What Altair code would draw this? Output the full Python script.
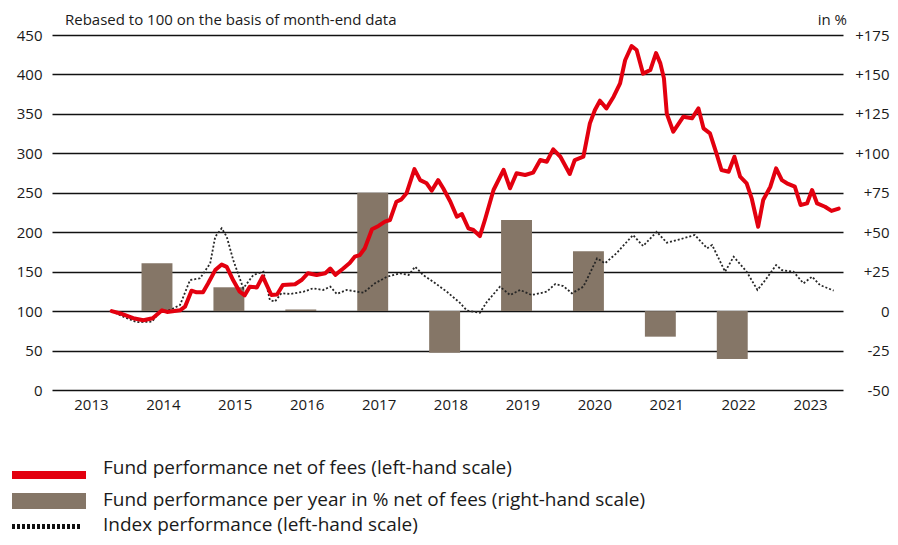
import altair as alt
import pandas as pd

# ---------------- data ----------------
fund_t = [2013.83, 2013.95, 2014.13, 2014.27, 2014.40, 2014.53, 2014.60, 2014.78, 2014.85, 2014.94,
          2015.01, 2015.10, 2015.17, 2015.27, 2015.36, 2015.43, 2015.52, 2015.61, 2015.68, 2015.75,
          2015.85, 2015.93, 2016.05, 2016.13, 2016.21, 2016.38, 2016.47, 2016.56, 2016.68, 2016.80,
          2016.87, 2016.94, 2017.05, 2017.14, 2017.21, 2017.28, 2017.35, 2017.45, 2017.54, 2017.63,
          2017.70, 2017.79, 2017.86, 2017.93, 2018.04, 2018.12, 2018.21, 2018.28, 2018.37, 2018.44,
          2018.54, 2018.63, 2018.70, 2018.79, 2018.86, 2018.95, 2019.02, 2019.14, 2019.28, 2019.37,
          2019.46, 2019.58, 2019.69, 2019.79, 2019.88, 2019.97, 2020.07, 2020.20, 2020.27, 2020.39,
          2020.48, 2020.55, 2020.62, 2020.71, 2020.81, 2020.90, 2020.97, 2021.06, 2021.13, 2021.22,
          2021.32, 2021.40, 2021.46, 2021.51, 2021.55, 2021.64, 2021.78, 2021.90, 2021.99, 2022.06,
          2022.15, 2022.24, 2022.31, 2022.41, 2022.49, 2022.57, 2022.66, 2022.73, 2022.82, 2022.89,
          2022.99, 2023.07, 2023.15, 2023.22, 2023.33, 2023.41, 2023.50, 2023.57, 2023.64, 2023.75,
          2023.84, 2023.94]
fund_v = [100, 97, 91, 88.5, 91, 101, 99, 101, 105.6, 125.9,
          123.8, 124, 135, 152, 159, 156, 139, 124.6, 120, 131,
          130, 144, 120.4, 121, 133, 134, 139.4, 148, 145.8, 148,
          154, 146, 154, 161, 169, 171, 179.6, 203.7, 208, 213.4,
          215.5, 238.7, 241.7, 249.3, 280, 266, 262, 252.6, 266, 255.7,
          238.7, 219.7, 223, 205, 202.8, 195, 215.5, 253.5, 279, 255.7,
          274.7, 272.5, 275.5, 291.5, 289.4, 305, 295.7, 273.8, 291.5, 295.7,
          338, 355, 366.7, 357, 371.8, 388.7, 418, 436, 431, 401,
          405.6, 427, 414, 395, 350, 327.4, 346.4, 344.4, 357, 331.7,
          325.3, 300, 278.9, 276.7, 295.7, 270.4, 262, 243, 207, 240.8,
          257.7, 281, 266, 262, 257.7, 234.5, 236.5, 253.5, 236.5, 232.3,
          227, 230]

index_t = [2013.83, 2013.99, 2014.18, 2014.39, 2014.50, 2014.64, 2014.78, 2014.92, 2015.06, 2015.20,
           2015.27, 2015.36, 2015.43, 2015.52, 2015.66, 2015.80, 2015.94, 2016.03, 2016.10, 2016.19,
           2016.31, 2016.50, 2016.63, 2016.77, 2016.87, 2016.96, 2017.10, 2017.33, 2017.49, 2017.66,
           2017.84, 2017.96, 2018.05, 2018.16, 2018.30, 2018.49, 2018.67, 2018.77, 2018.95, 2019.05,
           2019.23, 2019.37, 2019.51, 2019.67, 2019.88, 2020.00, 2020.11, 2020.23, 2020.39, 2020.58,
           2020.69, 2020.85, 2021.08, 2021.22, 2021.41, 2021.55, 2021.73, 2021.94, 2022.11, 2022.18,
           2022.36, 2022.48, 2022.66, 2022.81, 2022.92, 2023.07, 2023.15, 2023.31, 2023.45, 2023.57,
           2023.68, 2023.87]
index_v = [100, 93, 86, 86.6, 99.3, 101.4, 107.7, 139.4, 141.6, 160.6,
           194.3, 205, 194.3, 164.8, 128.9, 145.8, 150, 114, 112, 122.6,
           121.7, 124.6, 128.9, 126.8, 131, 121.7, 126.8, 123.3, 135.2, 143.6,
           147.9, 145.8, 156.3, 145.8, 137.3, 124.6, 110.7, 100.6, 98, 112,
           131, 120.4, 126.8, 120.4, 124.6, 134.4, 131.8, 122.6, 131, 166.9,
           160.6, 173.3, 196.5, 182.5, 200.6, 186.7, 191, 196.5, 179.6, 183.8,
           150, 169, 150, 126.8, 139.4, 158.4, 152, 150, 135.2, 143.6,
           133, 126]

bar_years = [2014, 2015, 2016, 2017, 2018, 2019, 2020, 2021, 2022]
bar_pct = [30.3, 15.1, 1.1, 75.0, -26.4, 57.7, 38.0, -16.2, -30.4]

year_labels = list(range(2013, 2024))
left_ticks = list(range(0, 451, 50))
right_ticks = list(range(-50, 176, 25))

title_text = "Rebased to 100 on the basis of month-end data"
unit_text = "in %"
legend_texts = ["Fund performance net of fees (left-hand scale)",
                "Fund performance per year in % net of fees (right-hand scale)",
                "Index performance (left-hand scale)"]

# ---------------- styling ----------------
FONT = "Open Sans"
RED = "#e3000f"
BROWN = "#857667"
INK = "#1a1a1a"
W, H = 791, 355

fund_df = pd.DataFrame({"t": fund_t, "v": fund_v})
index_df = pd.DataFrame({"t": index_t, "v": index_v})
bar_df = pd.DataFrame({"year": bar_years, "pct": bar_pct})
bar_df["start"] = bar_df["year"] + 0.245
bar_df["end"] = bar_df["year"] + 0.675

xscale = alt.Scale(domain=[2013, 2024], nice=False, zero=False)
xaxis = alt.Axis(values=[y + 0.5 for y in year_labels], labelExpr="floor(datum.value) + ''",
                 ticks=False, domain=False, grid=False, labelPadding=7, labelFontSize=15,
                 labelOffset=3, labelFont=FONT, labelColor=INK, title=None)
lscale = alt.Scale(domain=[0, 450], nice=False, zero=False)

bars = alt.Chart(bar_df).mark_bar(color=BROWN).encode(
    x=alt.X("start:Q", scale=xscale, axis=xaxis),
    x2="end:Q",
    y=alt.Y("pct:Q", scale=alt.Scale(domain=[-50, 175], nice=False, zero=False),
            axis=alt.Axis(orient="right", values=right_ticks,
                          labelExpr="datum.value > 0 ? '+' + datum.value : '' + datum.value",
                          labelAlign="right", labelPadding=46, ticks=False, domain=False,
                          grid=False, labelFontSize=15, labelFont=FONT, labelColor=INK,
                          title=None)),
    y2=alt.datum(0),
)

index_line = alt.Chart(index_df).mark_line(color="#262626", strokeWidth=1.8,
                                           strokeDash=[2, 2]).encode(
    x=alt.X("t:Q", scale=xscale, axis=xaxis),
    y=alt.Y("v:Q", scale=lscale, axis=None),
)

fund_line = alt.Chart(fund_df).mark_line(color=RED, strokeWidth=4, strokeJoin="round",
                                         strokeCap="round").encode(
    x=alt.X("t:Q", scale=xscale, axis=xaxis),
    y=alt.Y("v:Q", scale=lscale,
            axis=alt.Axis(orient="left", values=left_ticks, grid=True, gridColor="#111111",
                          gridWidth=1.7, ticks=False, domain=False, labelPadding=10,
                          labelFontSize=15, labelFont=FONT, labelColor=INK, title=None)),
)

one = pd.DataFrame({"a": [0]})

def txt(s, x, y, size, align="left"):
    return alt.Chart(one).mark_text(text=s, align=align, baseline="middle", font=FONT,
                                    fontSize=size, color=INK).encode(
        x=alt.value(x), y=alt.value(y))

title_mark = txt(title_text, 13, -15, 15)
unit_mark = txt(unit_text, 795, -15, 15, align="right")

leg_red = alt.Chart(one).mark_rule(color=RED, strokeWidth=8).encode(
    x=alt.value(-40), x2=alt.value(34), y=alt.value(440))
leg_bar = alt.Chart(one).mark_rect(color=BROWN).encode(
    x=alt.value(-40), x2=alt.value(34), y=alt.value(458), y2=alt.value(474))
leg_dot = alt.Chart(one).mark_rule(color="#111111", strokeWidth=5, strokeDash=[3, 2]).encode(
    x=alt.value(-40), x2=alt.value(28), y=alt.value(491.5))
leg_t1 = txt(legend_texts[0], 51, 433, 19)
leg_t2 = txt(legend_texts[1], 51, 465, 19)
leg_t3 = txt(legend_texts[2], 51, 490, 19)

chart = alt.layer(
    bars, index_line, fund_line,
    title_mark, unit_mark, leg_red, leg_bar, leg_dot, leg_t1, leg_t2, leg_t3,
).resolve_scale(y="independent").properties(
    width=W, height=H,
    padding={"left": 44, "top": 27, "right": 47, "bottom": 147},
    autosize=alt.AutoSizeParams(type="none"),
).configure_view(stroke=None)

chart.save("out.html", embed_options={"renderer": "svg", "actions": False})
